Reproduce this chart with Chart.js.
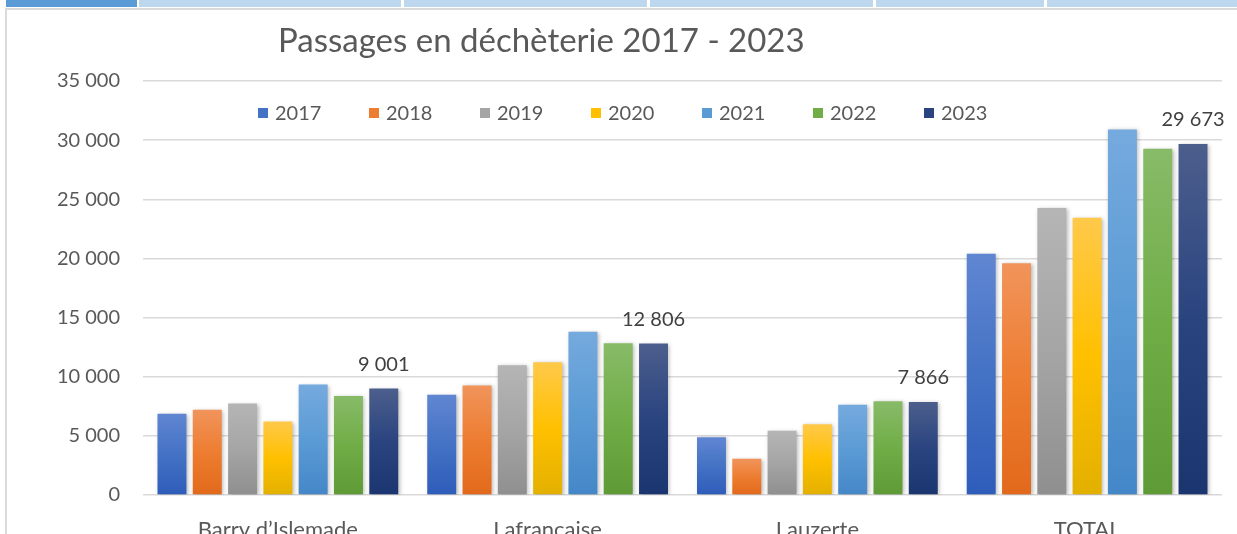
<!DOCTYPE html>
<html>
<head>
<meta charset="utf-8">
<script src="https://cdn.jsdelivr.net/npm/chart.js@4/dist/chart.umd.min.js"></script>
<style>
  html, body { margin: 0; padding: 0; background: #ffffff; overflow: hidden; width: 1237px; height: 534px; }
  #wrap { position: relative; width: 1237px; height: 534px; overflow: hidden; }
  canvas { position: absolute; left: 0; top: 0; }
  .tab { position: absolute; top: 0; height: 7px; background: #bdd7ee; }
  .frame { position: absolute; background: #dadada; }
</style>
</head>
<body>
<div id="wrap">
  <canvas id="c" width="1237" height="550"></canvas>
  <div class="tab" style="left:6px;width:131px;background:#5b9bd5"></div>
  <div class="tab" style="left:139px;width:262px"></div>
  <div class="tab" style="left:404px;width:243px"></div>
  <div class="tab" style="left:650px;width:223px"></div>
  <div class="tab" style="left:876px;width:168px"></div>
  <div class="tab" style="left:1047px;width:190px"></div>
  <div class="frame" style="left:5px;top:8px;width:1232px;height:2px"></div>
  <div class="frame" style="left:5px;top:8px;width:2px;height:526px"></div>
</div>
<script>
const chartTitle = "Passages en déchèterie 2017 - 2023";
const categories = ["Barry d’Islemade", "Lafrancaise", "Lauzerte", "TOTAL"];
const years = ["2017", "2018", "2019", "2020", "2021", "2022", "2023"];
const v2017 = [6860, 8480, 4890, 20400];
const v2018 = [7200, 9260, 3060, 19600];
const v2019 = [7730, 10970, 5430, 24270];
const v2020 = [6210, 11230, 5990, 23430];
const v2021 = [9340, 13800, 7620, 30900];
const v2022 = [8380, 12830, 7930, 29270];
const v2023 = [9001, 12806, 7866, 29673];
const yTicks = [0, 5000, 10000, 15000, 20000, 25000, 30000, 35000];
const labelledSeries = "2023";

const seriesValues = [v2017, v2018, v2019, v2020, v2021, v2022, v2023];
const palette = [
  ["#6086d2", "#4472c4", "#2e5cba"],
  ["#f1945b", "#ed7d31", "#e2691b"],
  ["#b5b5b5", "#a5a5a5", "#8f8f8f"],
  ["#ffc94a", "#ffc000", "#e3b000"],
  ["#75aade", "#5b9bd5", "#4487c8"],
  ["#88bb68", "#70ad47", "#5e9b36"],
  ["#4c5e8c", "#2a4480", "#1a356f"]
];

function fmt(v) { return String(v).replace(/\B(?=(\d{3})+(?!\d))/g, " "); }

function gradFill(i) {
  return function (ctx) {
    const chart = ctx.chart;
    if (ctx.type !== "data" || !chart.chartArea || !chart.scales.y) return palette[i][1];
    const y = chart.scales.y;
    const top = y.getPixelForValue(ctx.raw);
    const bot = y.getPixelForValue(0);
    if (!isFinite(top) || !isFinite(bot) || top === bot) return palette[i][1];
    const g = chart.ctx.createLinearGradient(0, top, 0, bot);
    g.addColorStop(0, palette[i][0]);
    g.addColorStop(0.5, palette[i][1]);
    g.addColorStop(1, palette[i][2]);
    return g;
  };
}

const datasets = years.map((yr, i) => ({
  label: yr,
  data: seriesValues[i],
  backgroundColor: gradFill(i),
  borderWidth: 0,
  categoryPercentage: 0.916,
  barPercentage: 0.82
}));

const FONT = "Lato, 'Open Sans', sans-serif";

const decor = {
  id: "decor",
  beforeDatasetsDraw(chart) {
    const ctx = chart.ctx;
    ctx.save();
    ctx.shadowColor = "rgba(0,0,0,0.28)";
    ctx.shadowBlur = 4;
    ctx.shadowOffsetX = 1.5;
    ctx.shadowOffsetY = 1;
  },
  afterDatasetsDraw(chart) {
    const ctx = chart.ctx;
    ctx.restore();
    const di = chart.data.datasets.findIndex(d => d.label === labelledSeries);
    const meta = chart.getDatasetMeta(di);
    ctx.save();
    ctx.font = "20px " + FONT;
    ctx.fillStyle = "#404040";
    ctx.textAlign = "center";
    ctx.textBaseline = "alphabetic";
    meta.data.forEach((bar, k) => {
      ctx.fillText(fmt(chart.data.datasets[di].data[k]), bar.x, bar.y - 18);
    });
    ctx.restore();
  },
  afterDraw(chart) {
    const ctx = chart.ctx;
    ctx.save();
    ctx.font = "33px " + FONT;
    ctx.fillStyle = "#595959";
    ctx.textAlign = "left";
    ctx.textBaseline = "alphabetic";
    ctx.fillText(chartTitle, 278, 52);
    ctx.font = "20px " + FONT;
    ctx.textBaseline = "middle";
    chart.data.datasets.forEach((ds, i) => {
      const x = 258 + i * 111;
      ctx.fillStyle = palette[i][1];
      ctx.fillRect(x, 108, 10, 10);
      ctx.fillStyle = "#595959";
      ctx.fillText(ds.label, x + 17, 114);
    });
    ctx.restore();
  }
};

new Chart(document.getElementById("c"), {
  type: "bar",
  data: { labels: categories, datasets },
  options: {
    responsive: false,
    animation: false,
    layout: { padding: { top: 81, right: 15, left: 0, bottom: 0 } },
    plugins: { legend: { display: false }, title: { display: false }, tooltip: { enabled: false } },
    scales: {
      x: {
        grid: { display: false },
        border: { display: false },
        ticks: { color: "#595959", font: { family: FONT, size: 22 }, padding: 14, maxRotation: 0 },
        afterFit(s) { s.height = 55; }
      },
      y: {
        min: 0,
        max: 35000,
        afterBuildTicks(s) { s.ticks = yTicks.map(v => ({ value: v })); },
        grid: { color: "#d9d9d9", lineWidth: 1.5, drawTicks: false },
        border: { display: false },
        ticks: { color: "#595959", font: { family: FONT, size: 20 }, padding: 23, callback: v => fmt(v) },
        afterFit(s) { s.width = 143; }
      }
    }
  },
  plugins: [decor]
});
</script>
</body>
</html>
